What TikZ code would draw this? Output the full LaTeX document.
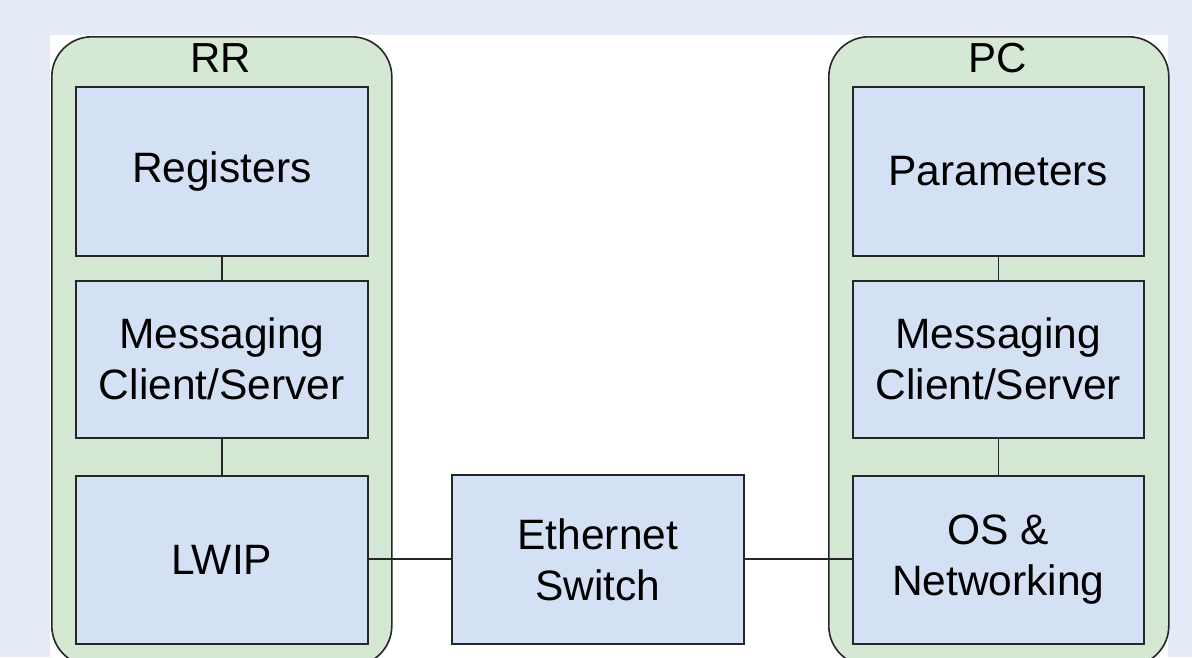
\documentclass[tikz,border=0pt]{standalone}
\usepackage{fontspec}
\setmainfont{Liberation Sans}
\definecolor{bgblue}{HTML}{E4EBF6}
\definecolor{boxblue}{HTML}{D4E1F5}
\definecolor{contgreen}{HTML}{D5E8D4}
\begin{document}
\begin{tikzpicture}[x=1pt,y=-1pt,
  container/.style={draw=black!85, fill=contgreen, line width=1.6pt, rounded corners=40pt, anchor=north west, inner sep=0pt, minimum width=340pt, minimum height=629pt},
  layer/.style={draw=black!85, fill=boxblue, line width=1.6pt, anchor=north west, inner sep=0pt, align=center, font=\fontsize{42.5}{51}\selectfont},
  title/.style={font=\fontsize{42}{48}\selectfont, inner sep=0pt},
  link/.style={draw=black!85, line width=1.4pt}]
\useasboundingbox (0,0) rectangle (1192,657);
\clip (0,0) rectangle (1192,657);
\fill[bgblue] (0,0) rectangle (1192,657);
\fill[white] (50,35) rectangle (1168,657);
% containers
\node[container] (rr) at (51,36) {};
\node[container] (pc) at (828,36) {};
\node[title] (rrlbl) at (221,58) {RR};
\node[title] (pclbl) at (998,58) {PC};
% left stack
\node[layer, minimum width=292pt, minimum height=169pt] (reg) at (75,86) {Registers};
\node[layer, minimum width=292pt, minimum height=157pt] (msgl) at (75,280) {Messaging\\Client/Server};
\node[layer, minimum width=292pt, minimum height=168pt] (lwip) at (75,475) {LWIP};
% right stack
\node[layer, minimum width=291pt, minimum height=169pt] (par) at (852,86) {Parameters};
\node[layer, minimum width=291pt, minimum height=157pt] (msgr) at (852,280) {Messaging\\Client/Server};
\node[layer, minimum width=291pt, minimum height=168pt] (os) at (852,475) {OS \&\\Networking};
% switch
\node[layer, minimum width=292pt, minimum height=169pt] (sw) at (451,474) {Ethernet\\Switch};
% links
\draw[link] (reg.south) -- (msgl.north);
\draw[link] (msgl.south) -- (lwip.north);
\draw[link] (par.south) -- (msgr.north);
\draw[link] (msgr.south) -- (os.north);
\draw[link] (lwip.east |- 0,559) -- (sw.west |- 0,559);
\draw[link] (sw.east |- 0,559) -- (os.west |- 0,559);
\end{tikzpicture}
\end{document}
